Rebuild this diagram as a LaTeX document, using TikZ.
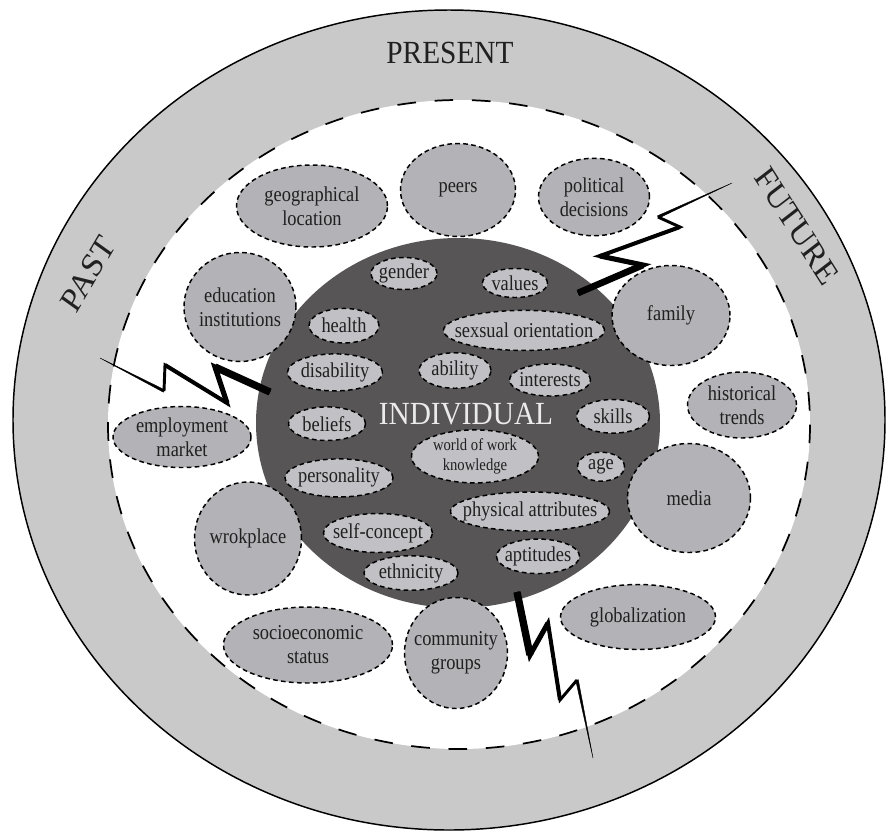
\documentclass[tikz,border=0pt]{standalone}
\usepackage{fontspec}
\setmainfont{Liberation Serif}
\usetikzlibrary{shapes.geometric}
\definecolor{ringgray}{HTML}{C9C9C9}
\definecolor{nodegray}{HTML}{B2B2B7}
\definecolor{innergray}{HTML}{C0C0C5}
\definecolor{darkcore}{HTML}{575555}
\definecolor{ink}{HTML}{202020}
\begin{document}
\begin{tikzpicture}[x=0.75pt,y=-0.75pt,
  every node/.style={inner sep=0pt},
  lbl/.style={text=ink, align=center, yscale=1.15, font=\fontsize{13.8}{15.6}\selectfont},
  smalllbl/.style={text=ink, align=center, yscale=1.15, font=\fontsize{11}{13.2}\selectfont},
  blob/.style={ellipse, draw=black, line width=1.1pt, dash pattern=on 3.5pt off 2.5pt},
  rn/.style n args={2}{blob, fill=nodegray, minimum width=#1*0.75pt, minimum height=#2*0.75pt},
  inn/.style n args={2}{blob, fill=innergray, minimum width=#1*0.75pt, minimum height=#2*0.75pt},
  bolt/.style={draw=black, line join=miter},
  era/.style={text=ink, yscale=1.1, font=\fontsize{22}{26}\selectfont}
]
\useasboundingbox (0,0) rectangle (893,833);
% rings
\filldraw[fill=ringgray, draw=black, line width=1.1pt] (449,420) ellipse [x radius=436, y radius=410];
\filldraw[fill=white, draw=black, line width=1.3pt, dash pattern=on 14pt off 14pt] (459,424.5) ellipse [x radius=351, y radius=324.5];
\fill[darkcore] (458,423) ellipse [x radius=202, y radius=185];

% era labels
\node[era] (present) at (450,53) {PRESENT};
\node[era, font=\fontsize{23.5}{28}\selectfont, rotate=57] (past) at (88,274) {PAST};
\node[era, font=\fontsize{23.5}{28}\selectfont, rotate=-55] (future) at (797,226) {FUTURE};

% outer factors
\node[rn={151}{82}, label={[lbl]center:geographical\\location}] (geo) at (312,206) {};
\node[rn={115}{93}, label={[lbl]center:peers}] (peers) at (458,190) {};
\node[rn={111}{77.5}, label={[lbl]center:political\\decisions}] (pol) at (594,197) {};
\node[rn={112}{109}, label={[lbl]center:education\\institutions}] (edu) at (240,307) {};
\node[rn={118}{100}, label={[lbl]center:family}] (family) at (671,315.5) {};
\node[rn={109}{66}, label={[lbl]center:historical\\trends}] (hist) at (742,405) {};
\node[rn={138}{61}, label={[lbl]center:employment\\market}] (emp) at (182,437) {};
\node[rn={123}{109}, label={[lbl]center:media}] (media) at (689,498) {};
\node[rn={107}{113}, label={[lbl]center:wrokplace}] (work) at (248,538.5) {};
\node[rn={155}{65}, label={[lbl]center:globalization}] (glob) at (638,617) {};
\node[rn={169}{76}, label={[lbl]center:socioeconomic\\status}] (socio) at (308,645) {};
\node[rn={103}{111}, label={[lbl]center:community\\groups}] (comm) at (456,653) {};

% inner factors
\node[text=white!92!black, yscale=1.1, font=\fontsize{22}{26}\selectfont] (indiv) at (466,414) {INDIVIDUAL};
\node[inn={66}{32}, label={[lbl]center:gender}] (gender) at (404,273.5) {};
\node[inn={65}{29}, label={[lbl]center:values}] (values) at (515,283) {};
\node[inn={70}{34.5}, label={[lbl]center:health}] (health) at (344,325.7) {};
\node[inn={161}{40}, label={[lbl]center:sexsual orientation}] (sexo) at (524,330.4) {};
\node[inn={95}{37}, label={[lbl]center:disability}] (disab) at (335,372.4) {};
\node[inn={72}{35.5}, label={[lbl]center:ability}] (ability) at (455,370.5) {};
\node[inn={81}{32}, label={[lbl]center:interests}] (interests) at (550,380) {};
\node[inn={77}{33.6}, label={[lbl]center:beliefs}] (beliefs) at (327,423.7) {};
\node[inn={73}{33.6}, label={[lbl]center:skills}] (skills) at (613,416.3) {};
\node[inn={127}{53}, label={[smalllbl]center:world of work\\knowledge}] (wow) at (475,456.4) {};
\node[inn={47}{29}, label={[lbl]center:age}] (age) at (601,466.7) {};
\node[inn={108}{38}, label={[lbl]center:personality}] (pers) at (339,477.9) {};
\node[inn={159}{39}, label={[lbl]center:physical attributes}] (phys) at (530,511.5) {};
\node[inn={109}{39}, label={[lbl]center:self-concept}] (self) at (378,533) {};
\node[inn={83}{34.5}, label={[lbl]center:aptitudes}] (apt) at (538,556.3) {};
\node[inn={94}{34.5}, label={[lbl]center:ethnicity}] (eth) at (411,573) {};

% lightning bolt 1 (upper right)
\draw[bolt, line width=2.2pt] (578,293) -- (643,265) -- (600,256) -- (680,227) -- (658,217);
\draw[bolt, line width=3pt] (578,293) -- (643,265) -- (600,256) -- (680,227);
\draw[bolt, line width=3.8pt] (578,293) -- (643,265) -- (600,256);
\draw[bolt, line width=5pt] (578,293) -- (643,265);
\filldraw[line width=0.3pt] (658.5,218.2) -- (732,183) -- (657.5,215.8) -- cycle;
% lightning bolt 2 (left)
\draw[bolt, line width=2.2pt] (270,392) -- (215,367) -- (227,403) -- (165,365) -- (164,391);
\draw[bolt, line width=3pt] (270,392) -- (215,367) -- (227,403) -- (165,365);
\draw[bolt, line width=3.8pt] (270,392) -- (215,367) -- (227,403);
\draw[bolt, line width=5.5pt] (270,392) -- (215,367);
\filldraw[line width=0.3pt] (164.6,389.8) -- (100,358) -- (163.4,392.2) -- cycle;
% lightning bolt 3 (bottom)
\draw[bolt, line width=2.2pt] (517,592) -- (530,655) -- (548,623) -- (560,700) -- (577,680);
\draw[bolt, line width=3pt] (517,592) -- (530,655) -- (548,623) -- (560,700);
\draw[bolt, line width=3.8pt] (517,592) -- (530,655) -- (548,623);
\draw[bolt, line width=5.5pt] (517,592) -- (530,655);
\filldraw[line width=0.3pt] (578.3,679.7) -- (593,758) -- (575.7,680.3) -- cycle;
\end{tikzpicture}
\end{document}
